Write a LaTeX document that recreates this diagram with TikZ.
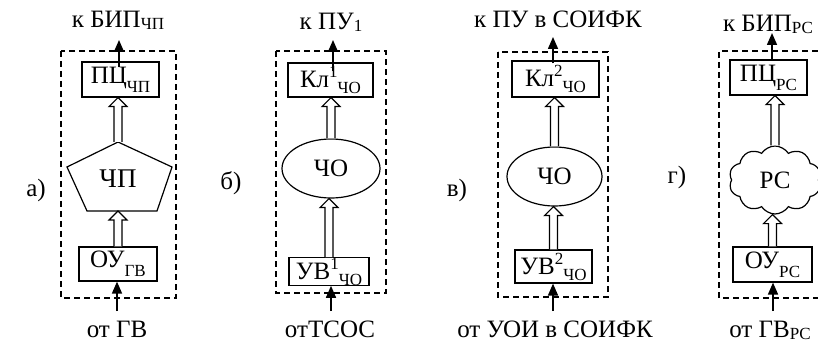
\documentclass[tikz,border=0pt]{standalone}
\usepackage{fontspec}
\setmainfont{Liberation Serif}
\usetikzlibrary{calc,shapes.geometric,shapes.symbols,arrows.meta}
\newcommand\lowsub[1]{\raisebox{-4.5pt}{\fontsize{8.5}{8.5}\selectfont #1}}
\newcommand\midsub[1]{\raisebox{-3pt}{\fontsize{8.5}{8.5}\selectfont #1}}
\newcommand\basesub[1]{\raisebox{-1pt}{\fontsize{8.5}{8.5}\selectfont #1}}
\newcommand\hisup[1]{\raisebox{5pt}{\fontsize{8.5}{8.5}\selectfont #1}}
\newcommand\hollowup[2]{\draw[hollow] let \p1=(#1), \p2=(#2) in
  (\x1-2pt,\y1) -- (\x1-2pt,\y2-4.5pt) -- (\x1-4.5pt,\y2-4.5pt) -- (\x1,\y2)
  -- (\x1+4.5pt,\y2-4.5pt) -- (\x1+2pt,\y2-4.5pt) -- (\x1+2pt,\y1);}
\begin{document}
\begin{tikzpicture}[x=0.5pt,y=-0.5pt,
  font=\fontsize{12.5}{14}\selectfont,
  bx/.style={draw,line width=0.6pt,inner sep=0pt,align=center},
  frame/.style={draw,dashed,line width=0.6pt,dash pattern=on 3pt off 2pt},
  hollow/.style={draw,line width=0.6pt,fill=white,line join=miter},
  sig/.style={line width=0.8pt,-{Triangle[length=6pt,width=5pt]}},
  lbl/.style={inner sep=0pt,anchor=base}]
\useasboundingbox (0,0) rectangle (818,347);
\clip (0,0) rectangle (818,347);

% ---------- a) ----------
\node[lbl] (la) at (36,197) {а)};
\path[frame] (61,51) rectangle (176,298);
\node[bx,minimum width=38.5pt,minimum height=17.5pt] (pcA) at (120.5,79.5) {ПЦ\lowsub{ЧП}};
\node[bx,minimum width=39pt,minimum height=17pt] (ouA) at (118,264) {ОУ\lowsub{ГВ}};
\coordinate (p1) at (118,142);
\coordinate (p2) at (172,167);
\coordinate (p3) at (157,211);
\coordinate (p4) at (87,211);
\coordinate (p5) at (67,167);
\draw[line width=0.6pt,line join=miter] (p1) -- (p2) -- (p3) -- (p4) -- (p5) -- cycle;
\node[font=\fontsize{13.5}{15}\selectfont] (chp) at (118,179) {ЧП};
\coordinate (pbA) at (118,211);
\hollowup{ouA.north}{pbA}
\hollowup{p1}{pcA.south}
\node[lbl] (topA) at (118,28) {к БИП\basesub{ЧП}};
\coordinate (outA) at (119,40);
\draw[sig] ($(outA |- pcA.north)+(0,6)$) -- (outA);
\node[lbl] (botA) at (117,337) {от ГВ};
\coordinate (inA) at (117,311);
\draw[sig] (inA) -- (inA |- ouA.south);

% ---------- б) ----------
\node[lbl] (lb) at (231,190) {б)};
\path[frame] (276,51) rectangle (386,293);
\node[bx,minimum width=42.5pt,minimum height=17pt] (klB) at (330.5,80) {Кл\hisup{1}\midsub{ЧО}};
\node[bx,minimum width=40pt,minimum height=13.5pt] (uvB) at (329,271.5) {УВ\hisup{1}\midsub{ЧО}};
\node[draw,ellipse,line width=0.6pt,inner sep=0pt,minimum width=49pt,minimum height=29.5pt] (chB) at (331,168.5) {ЧО};
\hollowup{uvB.north}{chB.south}
\hollowup{chB.north}{klB.south}
\node[lbl] (topB) at (331,30) {к ПУ\basesub{1}};
\coordinate (outB) at (333,40);
\draw[sig] ($(outB |- klB.north)+(0,9)$) -- (outB);
\node[lbl] (botB) at (330,337) {отТСОС};
\coordinate (inB) at (331,311);
\draw[sig] (inB) -- (inB |- uvB.south);

% ---------- в) ----------
\node[lbl] (lv) at (457,197) {в)};
\path[frame] (498,52) rectangle (608,297);
\node[bx,minimum width=43.5pt,minimum height=18pt] (klV) at (555.5,79) {Кл\hisup{2}\midsub{ЧО}};
\node[bx,minimum width=38.5pt,minimum height=16.5pt] (uvV) at (553.5,266.5) {УВ\hisup{2}\midsub{ЧО}};
\node[draw,ellipse,line width=0.6pt,inner sep=0pt,minimum width=47.5pt,minimum height=29.5pt] (chV) at (554.5,176.5) {ЧО};
\hollowup{uvV.north}{chV.south}
\hollowup{chV.north}{klV.south}
\node[lbl] (topV) at (558,28) {к ПУ в СОИФК};
\coordinate (outV) at (553,37);
\draw[sig] ($(outV |- klV.north)+(0,3)$) -- (outV);
\node[lbl] (botV) at (555,337) {от УОИ в СОИФК};
\coordinate (inV) at (553,311);
\draw[sig] (inV) -- (inV |- uvV.south);

% ---------- г) ----------
\node[lbl] (lg) at (677,184) {г)};
\draw[frame] (818,51) -- (719,51) -- (719,298) -- (818,298);
\node[bx,minimum width=38.5pt,minimum height=17.5pt] (pcG) at (768.5,77.5) {ПЦ\lowsub{РС}};
\node[bx,minimum width=39.5pt,minimum height=17.5pt] (ouG) at (772.5,264.5) {ОУ\lowsub{РС}};
\node[draw,cloud,cloud puffs=10,cloud puff arc=115,aspect=1.1,line width=0.6pt,inner sep=0pt,minimum width=46pt,minimum height=34pt] (rsG) at (775,180) {РС};
\hollowup{ouG.north}{rsG.south}
\hollowup{rsG.north}{pcG.south}
\node[lbl] (topG) at (768,32) {к БИП\basesub{РС}};
\coordinate (outG) at (772,33);
\draw[sig] (outG |- pcG.north) -- (outG);
\node[lbl] (botG) at (770,337) {от ГВ\basesub{РС}};
\coordinate (inG) at (773,311);
\draw[sig] (inG) -- (inG |- ouG.south);
\end{tikzpicture}
\end{document}
